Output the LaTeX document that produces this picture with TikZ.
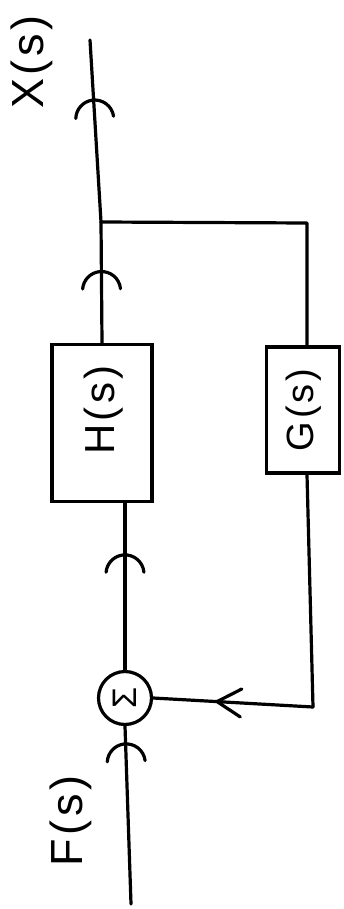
\documentclass[tikz,border=0pt]{standalone}
\usepackage{fontspec}
\setmainfont{Liberation Sans}
\newfontfamily\hand[LetterSpace=8]{Liberation Sans}
\usetikzlibrary{arrows.meta,decorations.markings,calc}

\tikzset{
  wire/.style={line width=3.2pt, line cap=round, line join=round},
  block/.style={draw, line width=3.4pt, rectangle, inner sep=0pt},
  junction/.style={draw, line width=3.2pt, circle, inner sep=0pt, minimum size=53pt},
  lbl/.style={rotate=90, font=\hand\fontsize{#1}{#1}\selectfont},
  % open arched chevron placed on a wire, pointing along it
  flowmark/.style={postaction={decorate, decoration={markings,
      mark=at position #1 with {\draw[line width=3.2pt, line cap=round]
        (-19pt,0) ++(-85:19pt) arc[start angle=-85, end angle=85, radius=19pt];}}}},
  % straight open chevron for the feedback wire
  backmark/.style={postaction={decorate, decoration={markings,
      mark=at position #1 with {\draw[line width=3.2pt, line cap=round, line join=miter]
        (-24pt,-14pt) -- (0,0) -- (-24pt,14pt);}}}},
}

\begin{document}
\begin{tikzpicture}[x=1pt, y=-1pt]
  \useasboundingbox (0,0) rectangle (343,909);

  % blocks and summing junction
  \node[block, minimum width=100pt, minimum height=157pt] (H) at (102,423) {};
  \node[lbl=42] at (104,410) {H(s)};
  \node[block, minimum width=73pt, minimum height=126pt] (G) at (303,410) {};
  \node[lbl=38] at (304,410) {G(s)};
  \node[junction] (sum) at (125,698) {};
  \node[rotate=90, font=\fontsize{34}{34}\selectfont] at (sum.center) {Σ};

  % signal names
  \node[lbl=45] at (32,62) {X(s)};
  \node[lbl=45] at (71,821) {F(s)};

  % free ends and corners
  \coordinate (out) at (90,40);
  \coordinate (in) at (131,904);
  \coordinate (branch) at (101,222);
  \coordinate (c1) at (307,223);
  \coordinate (c2) at (313,707);

  % forward path
  \draw[wire, flowmark=0.9] (in) -- (sum.south);
  \draw[wire, flowmark=0.69] (sum.north) -- (sum.north |- H.south);
  \draw[wire, flowmark=0.59] (H.north) -- (branch);
  \draw[wire, flowmark=0.67] (branch) -- (out);

  % feedback path
  \draw[wire] (branch) -- (c1) -- (c1 |- G.north);
  \draw[wire] (c1 |- G.south) -- (c2);
  \draw[wire, backmark=0.6] (c2) -- (sum.east);
\end{tikzpicture}
\end{document}
